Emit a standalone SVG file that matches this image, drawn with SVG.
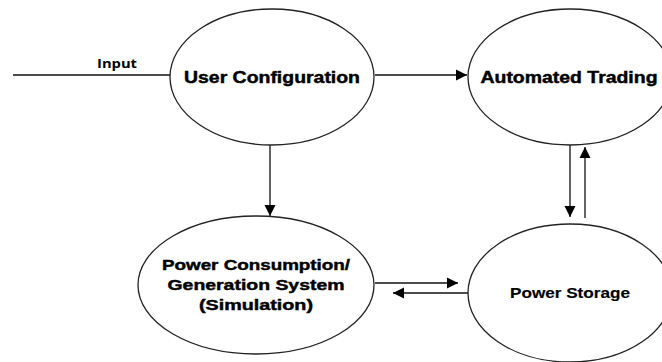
<svg xmlns="http://www.w3.org/2000/svg" width="662" height="362" viewBox="0 0 662 362">
<style>
.node{fill:#fff;stroke:#222;stroke-width:1.3}
.lbl{font-family:"Liberation Sans",Arial,sans-serif;font-weight:bold;fill:#000;text-anchor:middle;stroke:#000;stroke-width:0.45}
.edge{stroke:#111;stroke-width:1.3;fill:none}
</style>
<defs>
<marker id="arr" markerWidth="12" markerHeight="12" refX="11" refY="6" orient="auto" markerUnits="userSpaceOnUse">
<path d="M0,0.5 L11,6 L0,11.5 z" fill="#000"/>
</marker>
</defs>
<rect width="662" height="362" fill="#fff"/>
<g id="connectors">
<line class="edge" x1="13" y1="75" x2="170" y2="75"/>
<text x="117" y="68" style="font-family:'Open Sans','Liberation Sans',sans-serif;font-size:11.5px;font-weight:bold;fill:#000;text-anchor:middle" textLength="40" lengthAdjust="spacingAndGlyphs">Input</text>
<line class="edge" x1="375" y1="75" x2="467" y2="75" marker-end="url(#arr)"/>
<line class="edge" x1="270" y1="145" x2="270" y2="216" marker-end="url(#arr)"/>
<line class="edge" x1="570" y1="145" x2="570" y2="217" marker-end="url(#arr)"/>
<line class="edge" x1="585" y1="218" x2="585" y2="147" marker-end="url(#arr)"/>
<line class="edge" x1="375" y1="283" x2="458" y2="283" marker-end="url(#arr)"/>
<line class="edge" x1="468" y1="293" x2="393" y2="293" marker-end="url(#arr)"/>
</g>
<g id="user-config">
<ellipse class="node" cx="272" cy="77" rx="102" ry="68"/>
<text class="lbl" x="272" y="83" font-size="16.5" textLength="176" lengthAdjust="spacingAndGlyphs">User Configuration</text>
</g>
<g id="automated-trading">
<ellipse class="node" cx="570" cy="77" rx="102" ry="68"/>
<text class="lbl" x="569" y="83" font-size="16.5" textLength="177" lengthAdjust="spacingAndGlyphs">Automated Trading</text>
</g>
<g id="power-consumption">
<ellipse class="node" cx="256" cy="285" rx="118" ry="69"/>
<text class="lbl" x="256" y="270" font-size="15.5" textLength="188" lengthAdjust="spacingAndGlyphs">Power Consumption/</text>
<text class="lbl" x="256" y="290" font-size="15.5" textLength="177" lengthAdjust="spacingAndGlyphs">Generation System</text>
<text class="lbl" x="256" y="310" font-size="15.5" textLength="114" lengthAdjust="spacingAndGlyphs">(Simulation)</text>
</g>
<g id="power-storage">
<ellipse class="node" cx="570" cy="293" rx="102" ry="69"/>
<text class="lbl" x="570" y="298" font-size="14.5" textLength="120" lengthAdjust="spacingAndGlyphs" style="stroke-width:0.15">Power Storage</text>
</g>
</svg>
